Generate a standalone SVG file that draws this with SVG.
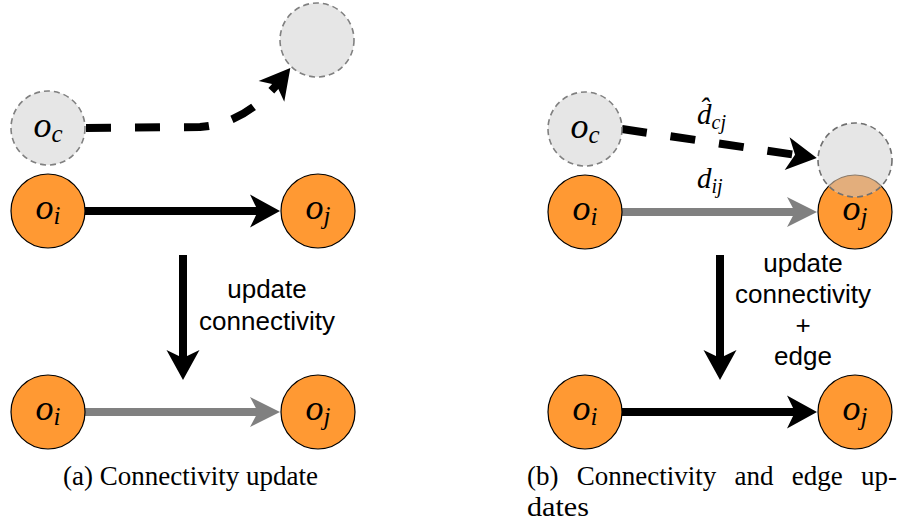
<svg xmlns="http://www.w3.org/2000/svg" width="902" height="523" viewBox="0 0 902 523">
<style>
.node{fill:#ff9933;stroke:#000;stroke-width:1.2}
.ghost{fill:#e6e6e6;stroke:#808080;stroke-width:1.6;stroke-dasharray:6 4}
.math{font-family:"Liberation Serif","DejaVu Serif",serif;font-style:italic;fill:#000}
.lbl{font-family:"Liberation Sans",Arial,sans-serif;font-size:26px;fill:#000;text-anchor:middle}
.cap{font-family:"Liberation Serif","DejaVu Serif",serif;font-size:27px;fill:#000}
.blk{fill:none;stroke:#000;stroke-width:8}
.gry{fill:none;stroke:#808080;stroke-width:8}
.dsh{fill:none;stroke:#000;stroke-width:8;stroke-dasharray:25 24}
</style>
<defs>
<marker id="ab" markerUnits="userSpaceOnUse" orient="auto" refX="0" refY="0" markerWidth="40" markerHeight="40" viewBox="-20 -20 40 40" overflow="visible">
<path d="M18,0 L-12,-16.5 L-4,0 L-12,16.5 Z" fill="#000"/>
</marker>
<marker id="ag" markerUnits="userSpaceOnUse" orient="auto" refX="0" refY="0" markerWidth="40" markerHeight="40" viewBox="-20 -20 40 40" overflow="visible">
<path d="M18,0 L-12,-15 L-4,0 L-12,15 Z" fill="#808080"/>
</marker>
<clipPath id="ghostClip"><circle cx="855" cy="160" r="37"/></clipPath>
</defs>

<g id="connectors">
<path class="dsh" d="M86,128 L200,127 Q245,124 279,82" marker-end="url(#ab)"/>
<path class="blk" d="M85,211 L262,211" marker-end="url(#ab)"/>
<path class="blk" d="M183,255 L183,362" marker-end="url(#ab)"/>
<path class="gry" d="M85,412 L262,412" marker-end="url(#ag)"/>
<path class="dsh" d="M622,129 L799,155.4" marker-end="url(#ab)"/>
<path class="gry" d="M622,212 L799,212" marker-end="url(#ag)"/>
<path class="blk" d="M720,255 L720,362" marker-end="url(#ab)"/>
<path class="blk" d="M622,412 L799,412" marker-end="url(#ab)"/>
</g>

<g id="a_oc">
<circle class="ghost" cx="48" cy="128" r="37"/>
<text class="math" x="48" y="137" text-anchor="middle"><tspan font-size="36">o</tspan><tspan font-size="25" dy="5">c</tspan></text>
</g>
<g id="a_ghost">
<circle class="ghost" cx="317" cy="40" r="37"/>
</g>
<g id="a_oi_top">
<circle class="node" cx="48" cy="211" r="37"/>
<text class="math" x="48" y="219" text-anchor="middle"><tspan font-size="36">o</tspan><tspan font-size="25" dy="5">i</tspan></text>
</g>
<g id="a_oj_top">
<circle class="node" cx="318" cy="211" r="37"/>
<text class="math" x="318" y="219" text-anchor="middle"><tspan font-size="36">o</tspan><tspan font-size="25" dy="5">j</tspan></text>
</g>
<g id="a_label">
<text class="lbl" x="267" y="298">update</text>
<text class="lbl" x="267" y="330">connectivity</text>
</g>
<g id="a_oi_bot">
<circle class="node" cx="48" cy="412" r="37"/>
<text class="math" x="48" y="420" text-anchor="middle"><tspan font-size="36">o</tspan><tspan font-size="25" dy="5">i</tspan></text>
</g>
<g id="a_oj_bot">
<circle class="node" cx="318" cy="412" r="37"/>
<text class="math" x="318" y="420" text-anchor="middle"><tspan font-size="36">o</tspan><tspan font-size="25" dy="5">j</tspan></text>
</g>

<g id="b_oc">
<circle class="ghost" cx="585" cy="129" r="37"/>
<text class="math" x="585" y="138" text-anchor="middle"><tspan font-size="36">o</tspan><tspan font-size="25" dy="5">c</tspan></text>
</g>
<g id="b_oi_top">
<circle class="node" cx="585" cy="212" r="37"/>
<text class="math" x="585" y="220" text-anchor="middle"><tspan font-size="36">o</tspan><tspan font-size="25" dy="5">i</tspan></text>
</g>
<g id="b_oj_top">
<circle class="node" cx="855" cy="212" r="37"/>
<text class="math" x="855" y="220" text-anchor="middle"><tspan font-size="36">o</tspan><tspan font-size="25" dy="5">j</tspan></text>
</g>
<g id="b_ghost">
<circle cx="855" cy="160" r="37" fill="#e6e6e6"/>
<circle cx="855" cy="212" r="37" fill="#e3ae7c" stroke="#8a7a6a" stroke-width="1.2" clip-path="url(#ghostClip)"/>
<circle cx="855" cy="160" r="37" fill="none" stroke="#707070" stroke-width="1.6" stroke-dasharray="6 4"/>
</g>
<g id="b_edge_labels">
<text class="math" x="697" y="124"><tspan font-size="29">d̂</tspan><tspan font-size="20" dy="5">cj</tspan></text>
<text class="math" x="697" y="188"><tspan font-size="29">d</tspan><tspan font-size="20" dy="5">ij</tspan></text>
</g>
<g id="b_label">
<text class="lbl" x="803" y="272">update</text>
<text class="lbl" x="803" y="303">connectivity</text>
<text class="lbl" x="803" y="334">+</text>
<text class="lbl" x="803" y="365">edge</text>
</g>
<g id="b_oi_bot">
<circle class="node" cx="585" cy="412" r="37"/>
<text class="math" x="585" y="420" text-anchor="middle"><tspan font-size="36">o</tspan><tspan font-size="25" dy="5">i</tspan></text>
</g>
<g id="b_oj_bot">
<circle class="node" cx="855" cy="412" r="37"/>
<text class="math" x="855" y="420" text-anchor="middle"><tspan font-size="36">o</tspan><tspan font-size="25" dy="5">j</tspan></text>
</g>

<g id="captions">
<text class="cap" x="63" y="485" textLength="255" lengthAdjust="spacingAndGlyphs">(a) Connectivity update</text>
<text class="cap" x="527" y="485" word-spacing="11.5">(b) Connectivity and edge up-</text>
<text class="cap" x="527" y="516" textLength="62" lengthAdjust="spacingAndGlyphs">dates</text>
</g>
</svg>
